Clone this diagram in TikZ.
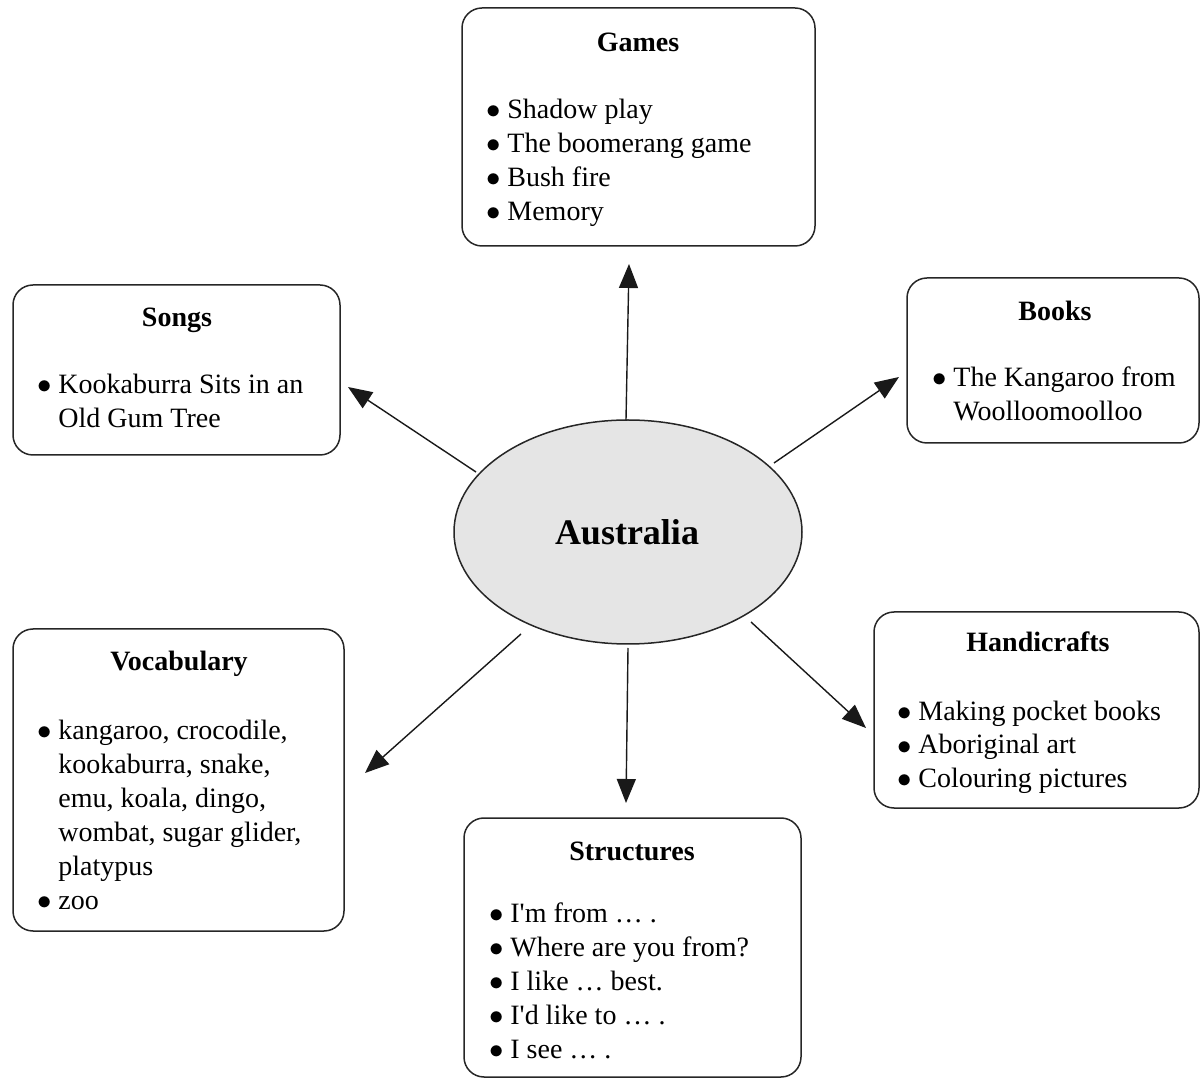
\documentclass[tikz,border=0pt]{standalone}
\usepackage{fontspec}
\setmainfont{Liberation Serif}
\usetikzlibrary{arrows.meta,shapes.geometric}
\newcommand\bl{\makebox[10.5pt][l]{$\bullet$}}
\newcommand\ind{\hspace*{10.5pt}}
\newcommand\ap{\textquotesingle}
\tikzset{
  box/.style={draw=black!85, line width=0.75pt, rounded corners=10pt, inner sep=0pt},
  head/.style={font=\fontsize{14}{17}\selectfont\bfseries, anchor=base, inner sep=0pt},
  items/.style={font=\fontsize{14}{17}\selectfont, align=left, anchor=base west, inner sep=0pt},
  arr/.style={line width=0.7pt, black!90, -{Triangle[length=12pt,width=9.5pt]}},
}
\begin{document}
\begin{tikzpicture}[x=0.5pt,y=-0.5pt]
\useasboundingbox (0,0) rectangle (1200,1079);
% centre
\node[ellipse, draw=black!85, line width=0.75pt, fill=black!10, minimum width=174pt, minimum height=112pt, inner sep=0pt] (aus) at (628,532) {};
\node[font=\fontsize{18}{21}\selectfont\bfseries, anchor=base, inner sep=0pt] (austxt) at (627,545) {Australia};
% boxes
\node[box, minimum width=176.5pt, minimum height=119pt] (games) at (638.5,127) {};
\node[head] (gamesh) at (638,52) {Games};
\node[items] (gamesl) at (486,221) {\bl Shadow play\\\bl The boomerang game\\\bl Bush fire\\\bl Memory};

\node[box, minimum width=163.5pt, minimum height=85pt] (songs) at (176.5,370) {};
\node[head] (songsh) at (177,327) {Songs};
\node[items] (songsl) at (37,428) {\bl Kookaburra Sits in an\\\ind Old Gum Tree};

\node[box, minimum width=146pt, minimum height=82.5pt] (books) at (1053,360.5) {};
\node[head] (booksh) at (1055,321) {Books};
\node[items] (booksl) at (932,421) {\bl The Kangaroo from\\\ind Woolloomoolloo};

\node[box, minimum width=165.5pt, minimum height=151pt] (vocab) at (178.5,780) {};
\node[head] (vocabh) at (179,671) {Vocabulary};
\node[items] (vocabl) at (37,909) {\bl kangaroo, crocodile,\\\ind kookaburra, snake,\\\ind emu, koala, dingo,\\\ind wombat, sugar glider,\\\ind platypus\\\bl zoo};

\node[box, minimum width=162.5pt, minimum height=98pt] (handi) at (1036.5,710) {};
\node[head] (handih) at (1038,652) {Handicrafts};
\node[items] (handil) at (897,788) {\bl Making pocket books\\\bl Aboriginal art\\\bl Colouring pictures};

\node[box, minimum width=168.5pt, minimum height=129.5pt] (struc) at (632.5,947.5) {};
\node[head] (struch) at (632,860) {Structures};
\node[items] (strucl) at (489,1058) {\bl I\ap m from \dots\ .\\\bl Where are you from?\\\bl I like \dots\ best.\\\bl I\ap d like to \dots\ .\\\bl I see \dots\ .};
% arrow ends
\coordinate (a1s) at (626,420); \coordinate (a1e) at (629,264);
\coordinate (a2s) at (476,472); \coordinate (a2e) at (348,387);
\coordinate (a3s) at (774,463); \coordinate (a3e) at (899,377);
\coordinate (a4s) at (521,634); \coordinate (a4e) at (365,773);
\coordinate (a5s) at (628,648); \coordinate (a5e) at (626,803);
\coordinate (a6s) at (751,622); \coordinate (a6e) at (866,728);
\draw[arr] (a1s) -- (a1e);
\draw[arr] (a2s) -- (a2e);
\draw[arr] (a3s) -- (a3e);
\draw[arr] (a4s) -- (a4e);
\draw[arr] (a5s) -- (a5e);
\draw[arr] (a6s) -- (a6e);
\end{tikzpicture}
\end{document}
